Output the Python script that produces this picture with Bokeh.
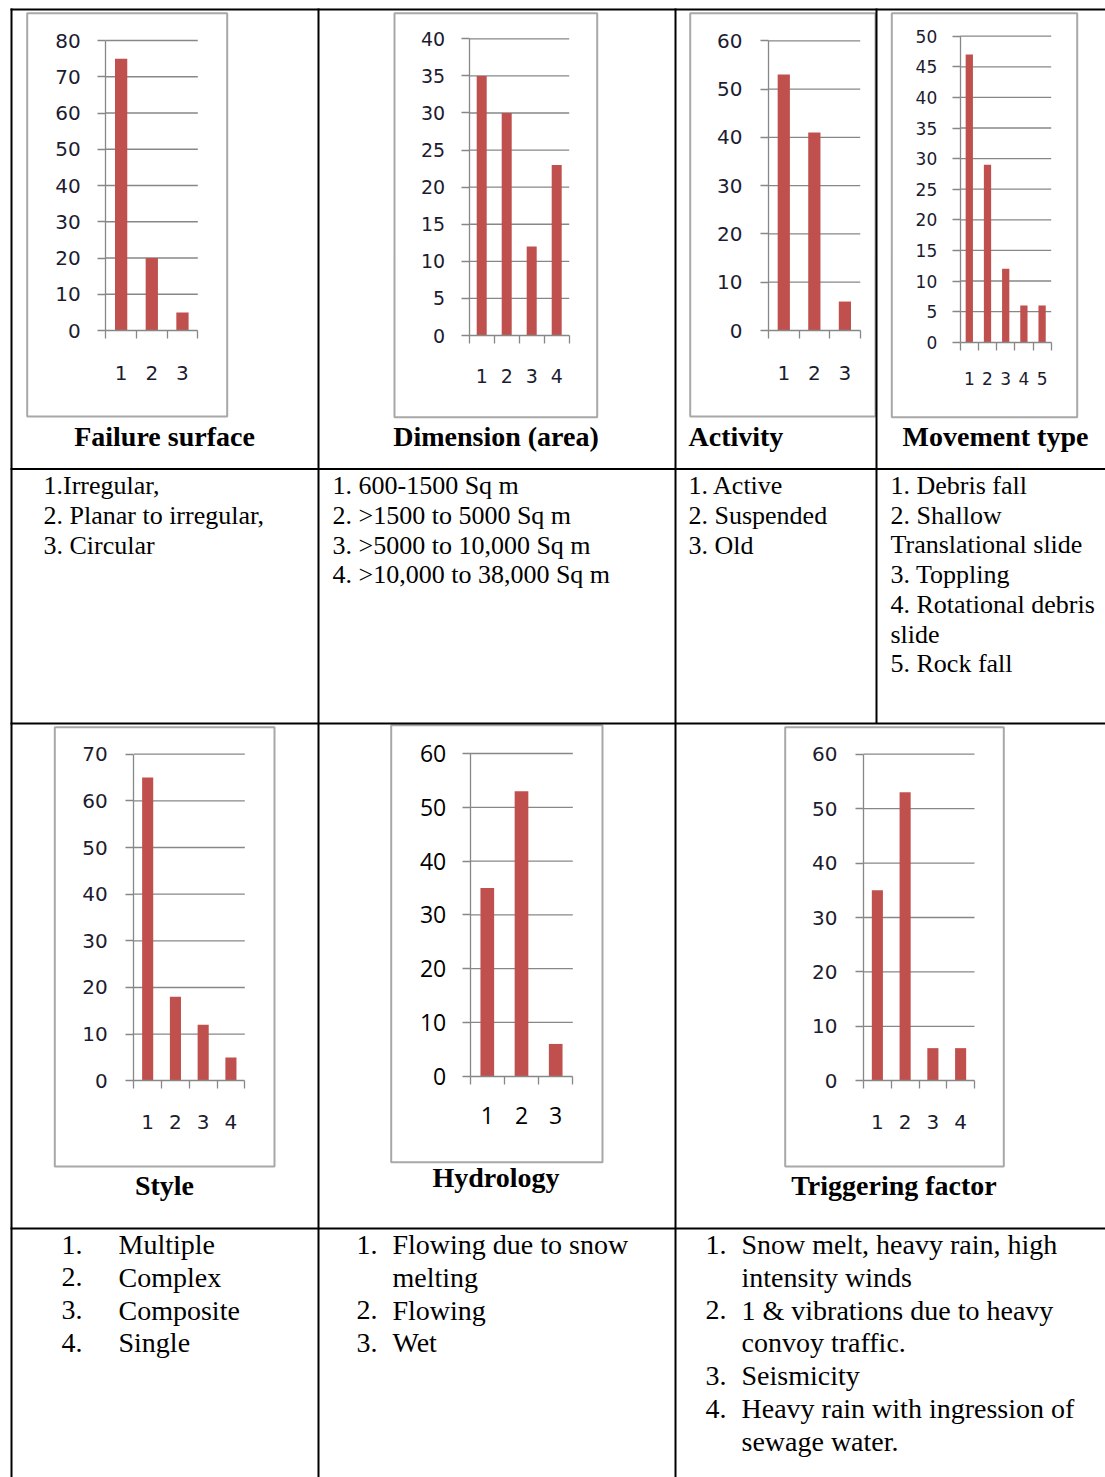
from bokeh.plotting import figure
from bokeh.models import Range1d, LinearAxis, FixedTicker
from bokeh.core.properties import value
from bokeh.embed import file_html
from bokeh.resources import INLINE

# ---------------- data ----------------
failure_cats = [1, 2, 3]
failure_vals = [75, 20, 5]
failure_ticks = [0, 10, 20, 30, 40, 50, 60, 70, 80]

dimension_cats = [1, 2, 3, 4]
dimension_vals = [35, 30, 12, 23]
dimension_ticks = [0, 5, 10, 15, 20, 25, 30, 35, 40]

activity_cats = [1, 2, 3]
activity_vals = [53, 41, 6]
activity_ticks = [0, 10, 20, 30, 40, 50, 60]

movement_cats = [1, 2, 3, 4, 5]
movement_vals = [47, 29, 12, 6, 6]
movement_ticks = [0, 5, 10, 15, 20, 25, 30, 35, 40, 45, 50]

style_cats = [1, 2, 3, 4]
style_vals = [65, 18, 12, 5]
style_ticks = [0, 10, 20, 30, 40, 50, 60, 70]

hydrology_cats = [1, 2, 3]
hydrology_vals = [35, 53, 6]
hydrology_ticks = [0, 10, 20, 30, 40, 50, 60]

trigger_cats = [1, 2, 3, 4]
trigger_vals = [35, 53, 6, 6]
trigger_ticks = [0, 10, 20, 30, 40, 50, 60]

titles = ["Failure surface", "Dimension (area)", "Activity", "Movement type",
          "Style", "Hydrology", "Triggering factor"]

failure_desc = ["1.Irregular,", "2. Planar to irregular,", "3. Circular"]
dimension_desc = ["1. 600-1500 Sq m", "2. >1500 to 5000 Sq m",
                  "3. >5000 to 10,000 Sq m", "4. >10,000 to 38,000 Sq m"]
activity_desc = ["1. Active", "2. Suspended", "3. Old"]
movement_desc = ["1. Debris fall", "2. Shallow", "Translational slide", "3. Toppling",
                 "4. Rotational debris", "slide", "5. Rock fall"]

style_nums = ["1.", "2.", "3.", "4."]
style_desc = ["Multiple", "Complex", "Composite", "Single"]
hydro_nums = ["1.", "", "2.", "3."]
hydro_desc = ["Flowing due to snow", "melting", "Flowing", "Wet"]
trigger_nums = ["1.", "", "2.", "", "3.", "4.", ""]
trigger_desc = ["Snow melt, heavy rain, high", "intensity winds",
                "1 & vibrations due to heavy", "convoy traffic.", "Seismicity",
                "Heavy rain with ingression of", "sewage water."]

# ---------------- page ----------------
W, H = 1105, 1477
GRID = "#878787"
BAR = "#C0504D"
BOX = "#A8A8A8"
SERIF = "Liberation Serif"

p = figure(width=W, height=H, x_range=Range1d(0, W), y_range=Range1d(H, 0),
           x_axis_type=None, y_axis_type=None, toolbar_location=None,
           output_backend="svg", min_border=0, outline_line_color=None,
           background_fill_color="white", border_fill_color="white")


def chart(cid, cats, vals, ticks, g):
    n = len(cats)
    xn, yn = f"x{cid}", f"y{cid}"
    kx = (g["right"] - g["axis"]) / n
    p.extra_x_ranges[xn] = Range1d(0.5 - g["axis"] / kx, 0.5 + (W - g["axis"]) / kx)
    ky = (g["y0"] - g["ytop"]) / ticks[-1]
    p.extra_y_ranges[yn] = Range1d(-(H - g["y0"]) / ky, g["y0"] / ky)

    # chart area box
    bl, bt, br, bb = g["box"]
    p.quad(left=[bl], right=[br], top=[bt], bottom=[bb], fill_color=None,
           line_color=BOX, line_width=2)

    # gridlines
    gt = ticks[1:]
    p.segment(x0=[0.5] * len(gt), x1=[n + 0.5] * len(gt), y0=gt, y1=gt,
              x_range_name=xn, y_range_name=yn, line_color=GRID, line_width=1.3)

    p.vbar(x=cats, top=vals, bottom=0, width=0.4, x_range_name=xn, y_range_name=yn,
           fill_color=BAR, line_color=None)

    fs = g.get("fs", 20)
    font = g.get("font", "DejaVu Sans")
    color = g.get("color", "#1c1c30")
    tick_out = 8
    yax = LinearAxis(x_range_name=xn, y_range_name=yn, fixed_location=0.5,
                     bounds=(0, ticks[-1]), ticker=FixedTicker(ticks=ticks),
                     axis_line_color=GRID, axis_line_width=1.3,
                     major_tick_line_color=GRID, major_tick_line_width=1.3,
                     major_tick_out=tick_out, major_tick_in=0,
                     minor_tick_out=0, minor_tick_in=0,
                     major_label_standoff=int(round(g["axis"] - tick_out - g["lab_right"])),
                     major_label_text_font=font,
                     major_label_text_font_size=f"{fs}px",
                     major_label_text_color=color)
    p.add_layout(yax, "left")

    minor = [c - 0.5 for c in cats] + [cats[-1] + 0.5]
    xax = LinearAxis(x_range_name=xn, y_range_name=yn, fixed_location=0,
                     bounds=(0.5, n + 0.5),
                     ticker=FixedTicker(ticks=cats, minor_ticks=minor),
                     axis_line_color=GRID, axis_line_width=1.3,
                     major_tick_out=0, major_tick_in=0,
                     minor_tick_out=tick_out, minor_tick_in=0,
                     minor_tick_line_color=GRID, minor_tick_line_width=1.3,
                     major_label_standoff=int(round(g["xlab_cy"] - g["y0"] - tick_out - 0.55 * fs + 3)),
                     major_label_text_font=font,
                     major_label_text_font_size=f"{fs}px",
                     major_label_text_color=color)
    p.add_layout(xax, "below")


chart(1, failure_cats, failure_vals, failure_ticks,
      dict(axis=105.3, right=197.3, y0=330, ytop=40, box=(26.7, 12.7, 226.7, 416),
           lab_right=80, xlab_cy=372.7))
chart(2, dimension_cats, dimension_vals, dimension_ticks,
      dict(axis=468.7, right=568.7, y0=335, ytop=38.3, box=(394, 12.7, 596.7, 416.7),
           lab_right=444.7, xlab_cy=375, fs=19))
chart(3, activity_cats, activity_vals, activity_ticks,
      dict(axis=768, right=859.7, y0=330, ytop=40.3, box=(689.7, 12.7, 875, 416),
           lab_right=742.3, xlab_cy=372.7))
chart(4, movement_cats, movement_vals, movement_ticks,
      dict(axis=959.7, right=1050.7, y0=341.7, ytop=35.7, box=(891.3, 12.7, 1076.7, 416.7),
           lab_right=936.3, xlab_cy=378.3, fs=17))
chart(5, style_cats, style_vals, style_ticks,
      dict(axis=133.3, right=244.3, y0=1080.3, ytop=753.7, box=(54.3, 726.7, 274, 1166),
           lab_right=107.3, xlab_cy=1122.7))
chart(6, hydrology_cats, hydrology_vals, hydrology_ticks,
      dict(axis=469.7, right=572.3, y0=1075.7, ytop=753, box=(390.7, 724.7, 602, 1161.7),
           lab_right=445.3, xlab_cy=1116.7, fs=23, font="Open Sans", color="#000000"))
chart(7, trigger_cats, trigger_vals, trigger_ticks,
      dict(axis=863, right=974, y0=1080.3, ytop=753.7, box=(784.7, 726.7, 1003.3, 1166),
           lab_right=837.3, xlab_cy=1122.7))

# ---------------- table borders ----------------
p.segment(x0=[10, 10, 10, 10], x1=[W, W, W, W], y0=[9, 468.5, 723, 1228],
          y1=[9, 468.5, 723, 1228], line_color="black", line_width=2)
p.segment(x0=[11, 318, 675, 876], x1=[11, 318, 675, 876], y0=[8, 8, 8, 8],
          y1=[H, H, H, 723], line_color="black", line_width=2)


# ---------------- texts ----------------
def txt(xs, ys, texts, size, align="left", bold=False):
    p.text(x=xs, y=ys, text=texts, text_font=value(SERIF),
           text_font_size=f"{size}px", text_align=align, text_baseline="alphabetic",
           text_font_style="bold" if bold else "normal", text_color="black")


# chart titles
txt([164, 495.5, 995], [436, 436, 436], [titles[0], titles[1], titles[3]], 28, "center", True)
txt([688], [436], [titles[2]], 28, "left", True)
txt([164, 495.5, 893.5], [1185, 1177, 1185], [titles[4], titles[5], titles[6]], 28, "center", True)


def lines(x, start, step, items, size, align="left"):
    ys = [start + step * i for i in range(len(items))]
    txt([x] * len(items), ys, items, size, align)


# row 2 descriptions
lines(43, 485, 29.8, failure_desc, 26)
lines(332, 485, 29.8, dimension_desc, 26)
lines(688, 485, 29.8, activity_desc, 26)
lines(890, 485, 29.7, movement_desc, 26)

# row 4 descriptions
lines(61, 1244, 32.8, style_nums, 28)
lines(118, 1244, 32.8, style_desc, 28)
lines(356, 1244, 32.8, hydro_nums, 28)
lines(392, 1244, 32.8, hydro_desc, 28)
lines(705, 1244, 32.8, trigger_nums, 28)
lines(741, 1244, 32.8, trigger_desc, 28)

open("out.html", "w").write(file_html(p, INLINE))
